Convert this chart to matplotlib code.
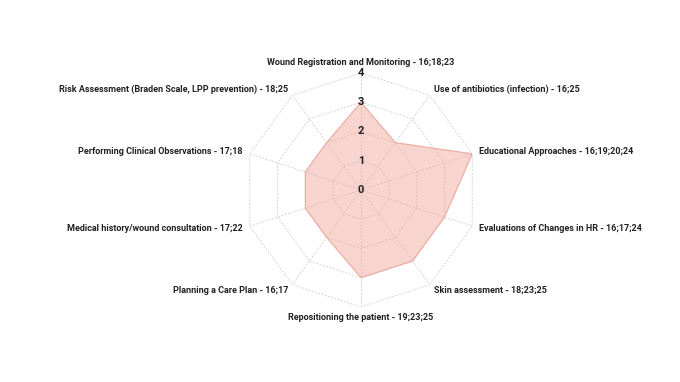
import numpy as np
import matplotlib
matplotlib.use("Agg")
import matplotlib.pyplot as plt

categories = [
    "Wound Registration and Monitoring - 16;18;23",
    "Use of antibiotics (infection) - 16;25",
    "Educational Approaches - 16;19;20;24",
    "Evaluations of Changes in HR - 16;17;24",
    "Skin assessment - 18;23;25",
    "Repositioning the patient - 19;23;25",
    "Planning a Care Plan - 16;17",
    "Medical history/wound consultation - 17;22",
    "Performing Clinical Observations - 17;18",
    "Risk Assessment (Braden Scale, LPP prevention) - 18;25",
]
values = [3, 2, 4, 3, 3, 3, 2, 2, 2, 2]
levels = [0, 1, 2, 3, 4]

plt.rcParams['font.family'] = ['Roboto', 'DejaVu Sans']

fig = plt.figure(figsize=(6.8, 3.82), dpi=100)
W, H = 680, 382
cx, cy, R = 361, 190, 117
ax = fig.add_axes([(cx - R) / W, (H - cy - R) / H, 2 * R / W, 2 * R / H], projection='polar')
ax.set_theta_offset(np.pi / 2)
ax.set_theta_direction(-1)
ax.set_ylim(0, 4)
ax.grid(False)
ax.spines['polar'].set_visible(False)
ax.set_xticks([])
ax.set_yticks([])
ax.patch.set_alpha(0)

n = len(categories)
angles = np.linspace(0, 2 * np.pi, n, endpoint=False)
closed = np.concatenate([angles, angles[:1]])

grid_color = '#d4d4d4'
for lv in levels[1:]:
    ax.plot(closed, [lv] * (n + 1), color=grid_color, lw=0.7, ls=(0, (2, 1.5)), zorder=1)
for a in angles:
    ax.plot([a, a], [0, levels[-1]], color=grid_color, lw=0.7, ls=(0, (2, 1.5)), zorder=1)

vals = values + values[:1]
ax.fill(closed, vals, color='#f3ab9f', alpha=0.5, zorder=2, lw=0)
ax.plot(closed, vals, color='#eea99d', lw=0.8, zorder=3)

for lv in levels:
    ax.text(0, lv, str(lv), ha='center', va='center', fontsize=8, fontweight='bold',
            color='#222222', zorder=5)

for a, lab in zip(angles, categories):
    s = np.sin(a)
    if abs(s) < 0.05:
        ha = 'center'
    elif s > 0:
        ha = 'left'
    else:
        ha = 'right'
    c = np.cos(a)
    r = 4.22 if abs(s) < 0.05 else 4.25
    if abs(s) < 0.05:
        va = 'bottom' if c > 0 else 'top'
    else:
        va = 'center'
    ax.text(a, r, lab, ha=ha, va=va, fontsize=6.5, fontweight='bold', color='#222222')

fig.savefig('out.png', dpi=100)
